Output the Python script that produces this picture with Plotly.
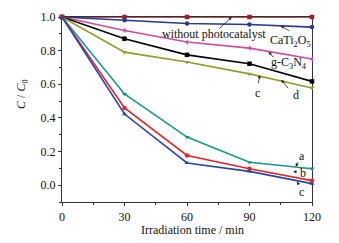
import plotly.graph_objects as go

time_min = [0, 30, 60, 90, 120]
without_photocatalyst = [1.0, 1.0, 1.0, 1.0, 1.0]
cati2o5 = [1.0, 0.981, 0.961, 0.955, 0.94]
g_c3n4 = [1.0, 0.920, 0.851, 0.815, 0.75]
series_c_upper = [1.0, 0.871, 0.775, 0.722, 0.617]
series_d = [1.0, 0.791, 0.732, 0.662, 0.578]
series_a = [1.0, 0.542, 0.286, 0.136, 0.098]
series_b = [1.0, 0.459, 0.177, 0.098, 0.027]
series_c = [1.0, 0.423, 0.132, 0.082, 0.009]

x_ticks = [0, 30, 60, 90, 120]
y_ticks = [0.0, 0.2, 0.4, 0.6, 0.8, 1.0]

FONT = "Liberation Serif, Times New Roman, serif"

fig = go.Figure()
traces = [
    (without_photocatalyst, "#9E1F2A", "square"),
    (cati2o5, "#2B3990", "circle"),
    (g_c3n4, "#D04A9E", "triangle-left"),
    (series_c_upper, "#000000", "square"),
    (series_d, "#939B2C", "triangle-down"),
    (series_a, "#17998A", "triangle-down"),
    (series_b, "#E8262A", "circle"),
    (series_c, "#2A45A8", "triangle-up"),
]
for ys, col, sym in traces:
    fig.add_trace(go.Scatter(
        x=time_min, y=ys, mode="lines+markers",
        line=dict(color=col, width=1.6),
        marker=dict(color=col, symbol=sym, size=4.5),
        cliponaxis=False, showlegend=False))

def label(x, y, text):
    fig.add_annotation(x=x, y=y, text=text, showarrow=False,
                       font=dict(family=FONT, size=12, color="#111"))

def arrow(x, y, ax, ay):
    fig.add_annotation(x=x, y=y, ax=ax, ay=ay, text="", showarrow=True,
                       arrowhead=2, arrowsize=0.8, arrowwidth=0.8,
                       arrowcolor="#222")

label(73.1, 0.90, "without photocatalyst")
arrow(81.5, 1.0, -14, 13)
label(109.7, 0.855, "CaTi<sub>2</sub>O<sub>5</sub>")
arrow(105.0, 0.948, 10, 6)
label(108.8, 0.725, "g-C<sub>3</sub>N<sub>4</sub>")
arrow(99.2, 0.793, 6, 7)
label(94.0, 0.55, "c")
arrow(95.0, 0.655, -2, 10)
label(112.2, 0.538, "d")
arrow(105.3, 0.627, 8, 10)
label(115.1, 0.175, "a")
arrow(112.2, 0.11, 3, -6)
label(115.6, 0.074, "b")
arrow(111.0, 0.08, 5, 0)
label(115.1, -0.04, "c")
arrow(112.7, 0.02, 3, 4)

# axis titles
fig.add_annotation(xref="paper", yref="paper", x=0.52, y=0, yshift=-28,
                   xanchor="center", yanchor="middle",
                   text="Irradiation time / min", showarrow=False,
                   font=dict(family=FONT, size=12, color="#111"))
fig.add_annotation(xref="paper", yref="paper", x=0, xshift=-40, y=0.584,
                   xanchor="center", yanchor="middle",
                   text="<i>C</i> / <i>C</i><sub>0</sub>", showarrow=False, textangle=-90,
                   font=dict(family=FONT, size=12, color="#111"))

axis_common = dict(showline=True, linecolor="#333", linewidth=1.3, mirror=True,
                   showgrid=False, zeroline=False, ticks="outside", ticklen=3,
                   tickcolor="#333", automargin=False, layer="below traces",
                   tickfont=dict(family=FONT, size=12, color="#111"))

fig.update_xaxes(range=[0, 120], tickvals=x_ticks,
                 minor=dict(ticks="outside", ticklen=2, dtick=15, tickcolor="#333"),
                 **axis_common)
fig.update_yaxes(range=[-0.1, 1.0], tickvals=y_ticks, tickformat=".1f",
                 minor=dict(ticks="outside", ticklen=2, dtick=0.1, tickcolor="#333"),
                 **axis_common)

# page body has an 8px default margin, so the figure is sized to fit the window
fig.update_layout(width=331, height=235, margin=dict(l=54, r=27, t=9, b=41),
                  plot_bgcolor="white", paper_bgcolor="white")

fig.write_html("out.html")
